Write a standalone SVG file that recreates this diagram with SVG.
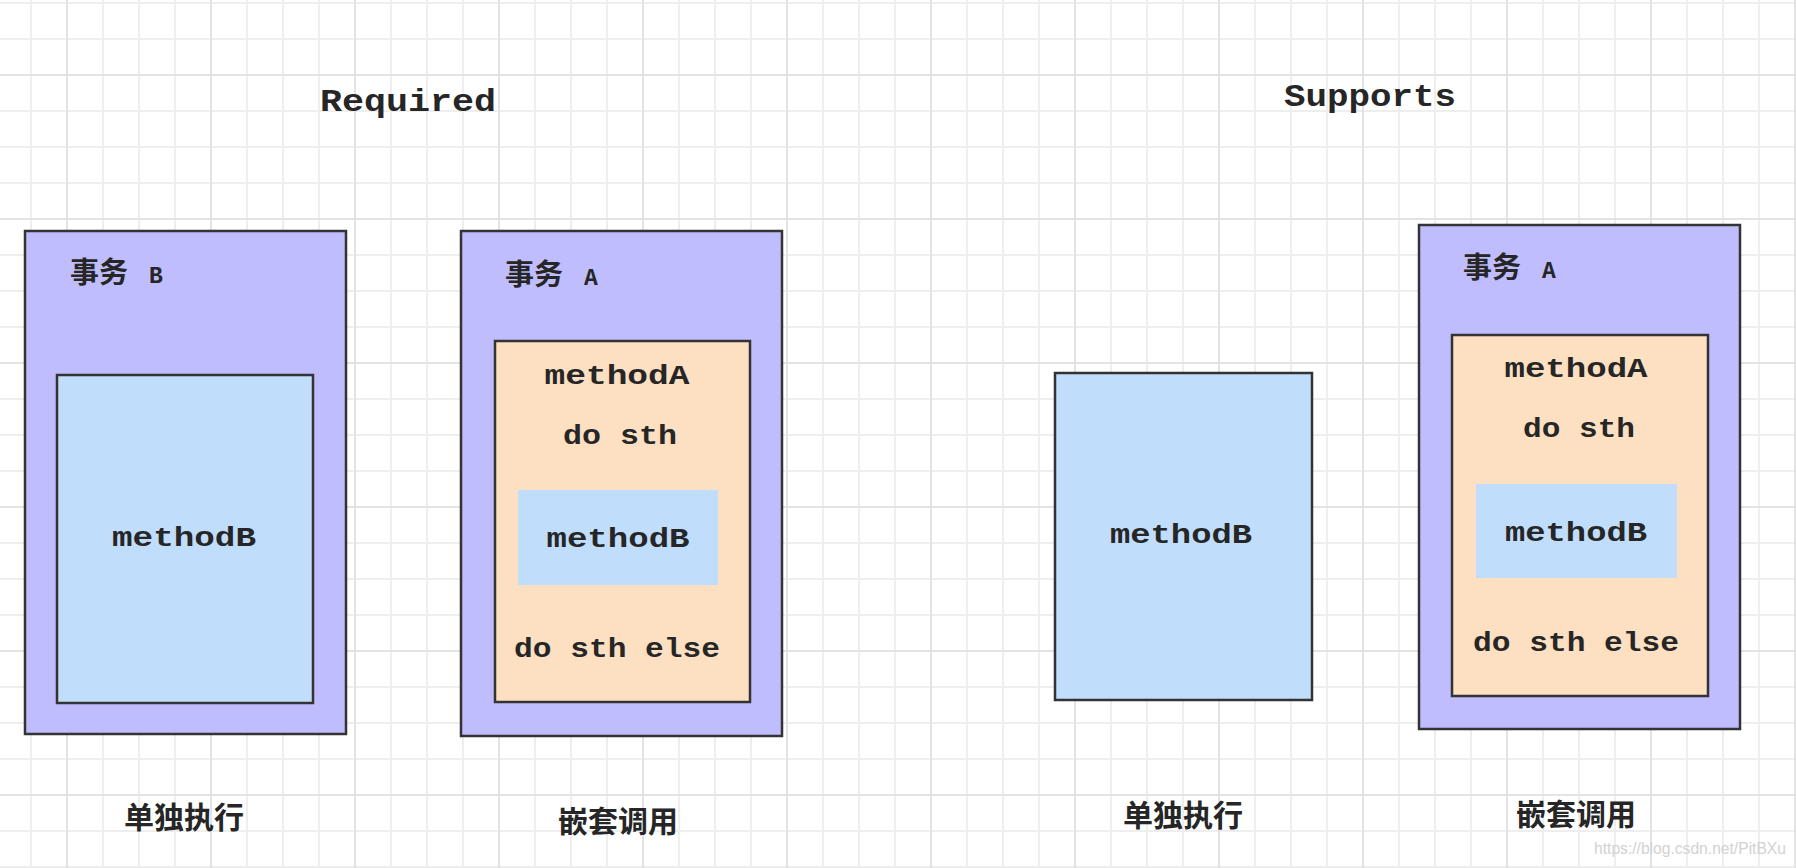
<svg xmlns="http://www.w3.org/2000/svg" width="1796" height="868" viewBox="0 0 1796 868">
<style>
.minor{stroke:#eeeeee;stroke-width:2;fill:none}
.major{stroke:#e3e3e3;stroke-width:2;fill:none}
.tx{stroke:#333;stroke-width:2.5}
.outer{fill:#c0bdff}
.blue{fill:#c1ddfc}
.orange{fill:#fddfc1}
.mono{font-family:"Liberation Mono","Courier New",monospace;font-weight:bold;fill:#262626}
.cjk{font-family:"Noto Sans CJK SC","Noto Sans",sans-serif;font-weight:bold;fill:#262626}
.lbl{font-family:"Noto Sans CJK SC","Noto Sans",sans-serif;font-weight:bold;font-size:30px;fill:#262626;text-anchor:middle}
</style>
<rect width="1796" height="868" fill="#ffffff"/>
<g id="grid">
<path class="minor" d="M31 0V868M103 0V868M139 0V868M175 0V868M247 0V868M283 0V868M319 0V868M391 0V868M427 0V868M463 0V868M535 0V868M571 0V868M607 0V868M679 0V868M715 0V868M751 0V868M823 0V868M859 0V868M895 0V868M967 0V868M1003 0V868M1039 0V868M1111 0V868M1147 0V868M1183 0V868M1255 0V868M1291 0V868M1327 0V868M1399 0V868M1435 0V868M1471 0V868M1543 0V868M1579 0V868M1615 0V868M1687 0V868M1723 0V868M1759 0V868M0 3H1796M0 39H1796M0 111H1796M0 147H1796M0 183H1796M0 255H1796M0 291H1796M0 327H1796M0 399H1796M0 435H1796M0 471H1796M0 543H1796M0 579H1796M0 615H1796M0 687H1796M0 723H1796M0 759H1796M0 831H1796M0 867H1796"/>
<path class="major" d="M67 0V868M211 0V868M355 0V868M499 0V868M643 0V868M787 0V868M931 0V868M1075 0V868M1219 0V868M1363 0V868M1507 0V868M1651 0V868M1795 0V868M0 75H1796M0 219H1796M0 363H1796M0 507H1796M0 651H1796M0 795H1796"/>
</g>
<g id="titles">
<text class="mono" x="408" y="111" font-size="32" text-anchor="middle" textLength="176" lengthAdjust="spacingAndGlyphs">Required</text>
<text class="mono" x="1370" y="106" font-size="31" text-anchor="middle" textLength="172" lengthAdjust="spacingAndGlyphs">Supports</text>
</g>
<g id="txB-left">
<rect class="outer tx" x="25" y="231" width="321" height="503"/>
<text x="70" y="283"><tspan class="cjk" font-size="29">事务</tspan><tspan class="mono" font-size="23" dx="21">B</tspan></text>
</g>
<g id="methodB-left">
<rect class="blue tx" x="57" y="375" width="256" height="328"/>
<text class="mono" x="184" y="546" font-size="27" text-anchor="middle" textLength="144" lengthAdjust="spacingAndGlyphs">methodB</text>
</g>
<g id="txA-left">
<rect class="outer tx" x="461" y="231" width="321" height="505"/>
<text x="505" y="285"><tspan class="cjk" font-size="29">事务</tspan><tspan class="mono" font-size="23" dx="21">A</tspan></text>
</g>
<g id="methodA-left">
<rect class="orange tx" x="495" y="341" width="255" height="361"/>
<text class="mono" x="617" y="384" font-size="27" text-anchor="middle" textLength="145" lengthAdjust="spacingAndGlyphs">methodA</text>
<text class="mono" x="620" y="444" font-size="27" text-anchor="middle" textLength="114" lengthAdjust="spacingAndGlyphs">do sth</text>
<text class="mono" x="617" y="657" font-size="27" text-anchor="middle" textLength="206" lengthAdjust="spacingAndGlyphs">do sth else</text>
</g>
<g id="methodB-nested-left">
<rect class="blue" x="518" y="490" width="200" height="95"/>
<text class="mono" x="618" y="547" font-size="27" text-anchor="middle" textLength="143" lengthAdjust="spacingAndGlyphs">methodB</text>
</g>
<g id="methodB-right">
<rect class="blue tx" x="1055" y="373" width="257" height="327"/>
<text class="mono" x="1181" y="543" font-size="27" text-anchor="middle" textLength="142" lengthAdjust="spacingAndGlyphs">methodB</text>
</g>
<g id="txA-right">
<rect class="outer tx" x="1419" y="225" width="321" height="504"/>
<text x="1463" y="278"><tspan class="cjk" font-size="29">事务</tspan><tspan class="mono" font-size="23" dx="21">A</tspan></text>
</g>
<g id="methodA-right">
<rect class="orange tx" x="1452" y="335" width="256" height="361"/>
<text class="mono" x="1576" y="377" font-size="27" text-anchor="middle" textLength="143" lengthAdjust="spacingAndGlyphs">methodA</text>
<text class="mono" x="1579" y="437" font-size="27" text-anchor="middle" textLength="112" lengthAdjust="spacingAndGlyphs">do sth</text>
<text class="mono" x="1576" y="651" font-size="27" text-anchor="middle" textLength="206" lengthAdjust="spacingAndGlyphs">do sth else</text>
</g>
<g id="methodB-nested-right">
<rect class="blue" x="1476" y="484" width="201" height="94"/>
<text class="mono" x="1576" y="541" font-size="27" text-anchor="middle" textLength="142" lengthAdjust="spacingAndGlyphs">methodB</text>
</g>
<g id="labels">
<text class="lbl" x="184" y="828">单独执行</text>
<text class="lbl" x="618" y="832">嵌套调用</text>
<text class="lbl" x="1183" y="826">单独执行</text>
<text class="lbl" x="1576" y="825">嵌套调用</text>
</g>
<g id="connectors"></g>
<text x="1594" y="854" font-family="Liberation Sans, Arial, sans-serif" font-size="17" fill="#d2d2d2" textLength="192" lengthAdjust="spacingAndGlyphs">https://blog.csdn.net/PitBXu</text>
</svg>
